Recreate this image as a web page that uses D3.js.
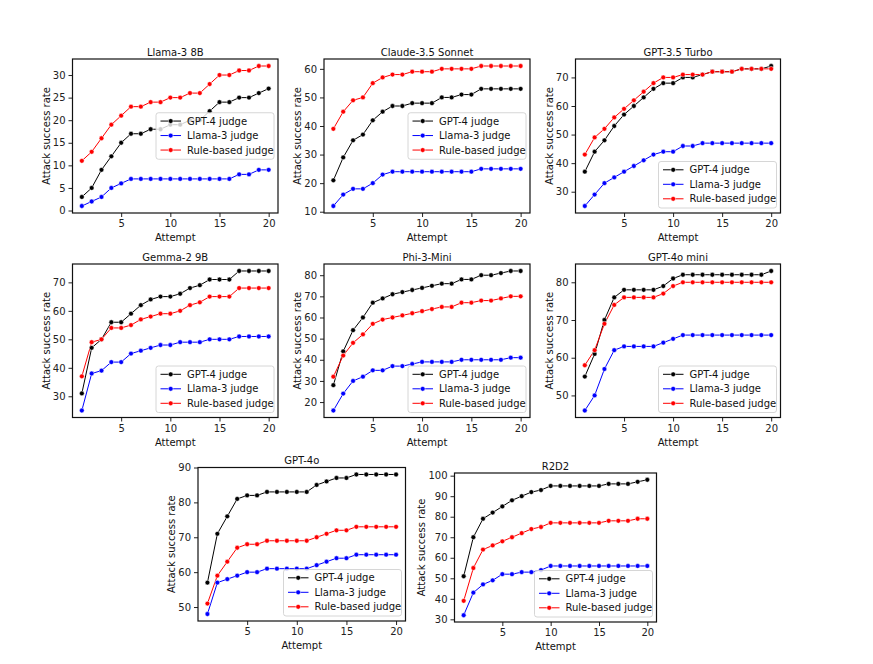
<!DOCTYPE html>
<html><head><meta charset="utf-8">
<script src="https://cdn.jsdelivr.net/npm/d3@7"></script>
<style>body{margin:0;background:#fff;} text{font-family:"DejaVu Sans",sans-serif;}</style>
</head><body><svg id="c" width="873" height="664"></svg>
<script>
const attempts = [1,2,3,4,5,6,7,8,9,10,11,12,13,14,15,16,17,18,19,20];
const titles = ["Llama-3 8B","Claude-3.5 Sonnet","GPT-3.5 Turbo","Gemma-2 9B","Phi-3-Mini","GPT-4o mini","GPT-4o","R2D2"];
const seriesNames = ["GPT-4 judge","Llama-3 judge","Rule-based judge"];
const xTicks = [5,10,15,20];

// Llama-3 8B
const llama8b_gpt4  = [3,5,9,12,15,17,17,18,18,19,19,20,20,22,24,24,25,25,26,27];
const llama8b_llama = [1,2,3,5,6,7,7,7,7,7,7,7,7,7,7,7,8,8,9,9];
const llama8b_rule  = [11,13,16,19,21,23,23,24,24,25,25,26,26,28,30,30,31,31,32,32];
const llama8b_ticks = [0,5,10,15,20,25,30];
// Claude-3.5 Sonnet
const claude_gpt4  = [21,29,35,37,42,45,47,47,48,48,48,50,50,51,51,53,53,53,53,53];
const claude_llama = [12,16,18,18,20,23,24,24,24,24,24,24,24,24,24,25,25,25,25,25];
const claude_rule  = [39,45,49,50,55,57,58,58,59,59,59,60,60,60,60,61,61,61,61,61];
const claude_ticks = [10,20,30,40,50,60];
// GPT-3.5 Turbo
const gpt35_gpt4  = [37,44,48,53,57,60,63,66,68,68,70,70,71,72,72,72,73,73,73,74];
const gpt35_llama = [25,29,33,35,37,39,41,43,44,44,46,46,47,47,47,47,47,47,47,47];
const gpt35_rule  = [43,49,52,56,59,62,65,68,70,70,71,71,71,72,72,72,73,73,73,73];
const gpt35_ticks = [30,40,50,60,70];
// Gemma-2 9B
const gemma_gpt4  = [31,47,50,56,56,59,62,64,65,65,66,68,69,71,71,71,74,74,74,74];
const gemma_llama = [25,38,39,42,42,45,46,47,48,48,49,49,49,50,50,50,51,51,51,51];
const gemma_rule  = [37,49,50,54,54,55,57,58,59,59,60,62,63,65,65,65,68,68,68,68];
const gemma_ticks = [30,40,50,60,70];
// Phi-3-Mini
const phi_gpt4  = [28,44,54,60,67,69,71,72,73,74,75,76,76,78,78,80,80,81,82,82];
const phi_llama = [16,24,30,32,35,35,37,37,38,39,39,39,39,40,40,40,40,40,41,41];
const phi_rule  = [32,42,48,52,57,59,60,61,62,63,64,65,65,67,67,68,68,69,70,70];
const phi_ticks = [20,30,40,50,60,70,80];
// GPT-4o mini
const mini_gpt4  = [55,61,70,76,78,78,78,78,79,81,82,82,82,82,82,82,82,82,82,83];
const mini_llama = [46,50,57,62,63,63,63,63,64,65,66,66,66,66,66,66,66,66,66,66];
const mini_rule  = [58,62,69,74,76,76,76,76,77,79,80,80,80,80,80,80,80,80,80,80];
const mini_ticks = [50,60,70,80];
// GPT-4o
const gpt4o_gpt4  = [57,71,76,81,82,82,83,83,83,83,83,85,86,87,87,88,88,88,88,88];
const gpt4o_llama = [48,57,58,59,60,60,61,61,61,61,61,62,63,64,64,65,65,65,65,65];
const gpt4o_rule  = [51,59,63,67,68,68,69,69,69,69,69,70,71,72,72,73,73,73,73,73];
const gpt4o_ticks = [50,60,70,80,90];
// R2D2
const r2d2_gpt4  = [51,70,79,82,85,88,90,92,93,95,95,95,95,95,95,96,96,96,97,98];
const r2d2_llama = [32,43,47,49,52,52,53,53,54,56,56,56,56,56,56,56,56,56,56,56];
const r2d2_rule  = [39,55,64,66,68,70,72,74,75,77,77,77,77,77,77,78,78,78,79,79];
const r2d2_ticks = [30,40,50,60,70,80,90,100];

const panelSeries = [
  [llama8b_gpt4, llama8b_llama, llama8b_rule],
  [claude_gpt4, claude_llama, claude_rule],
  [gpt35_gpt4, gpt35_llama, gpt35_rule],
  [gemma_gpt4, gemma_llama, gemma_rule],
  [phi_gpt4, phi_llama, phi_rule],
  [mini_gpt4, mini_llama, mini_rule],
  [gpt4o_gpt4, gpt4o_llama, gpt4o_rule],
  [r2d2_gpt4, r2d2_llama, r2d2_rule]
];
const panelTicks = [llama8b_ticks, claude_ticks, gpt35_ticks, gemma_ticks, phi_ticks, mini_ticks, gpt4o_ticks, r2d2_ticks];

// layout (pixel boxes of each axes)
const layout = [
  {l:72.5, t:59,  w:205.5, h:154,   leg:"center"},
  {l:324,  t:59,  w:206,   h:154,   leg:"center"},
  {l:575.5,t:59,  w:205,   h:154,   leg:"lower"},
  {l:72.5, t:264, w:205.5, h:153.5, leg:"lower"},
  {l:324,  t:264, w:206,   h:153.5, leg:"lower"},
  {l:575.5,t:264, w:205,   h:153.5, leg:"lower"},
  {l:198,  t:467.5,w:207.5,h:153.5, leg:"lower"},
  {l:454.5,t:473, w:202,   h:149,   leg:"lower"}
];
const colors = ["#000000","#0000ff","#ff0000"];
const FS = 10;
const svg = d3.select("#c");

panelSeries.forEach((series, i) => {
  const L = layout[i];
  const g = svg.append("g").attr("transform", `translate(${L.l},${L.t})`);
  const all = series.flat();
  const mn = d3.min(all), mx = d3.max(all), pad = (mx - mn) * 0.05;
  const x = d3.scaleLinear().domain([0.05, 20.95]).range([0, L.w]);
  const y = d3.scaleLinear().domain([mn - pad, mx + pad]).range([L.h, 0]);

  // axes
  const xa = g.append("g").attr("transform", `translate(0,${L.h})`)
    .call(d3.axisBottom(x).tickValues(xTicks).tickSize(4).tickPadding(3).tickFormat(d3.format("d")));
  const ya = g.append("g")
    .call(d3.axisLeft(y).tickValues(panelTicks[i]).tickSize(4).tickPadding(3).tickFormat(d3.format("d")));
  [xa, ya].forEach(a => {
    a.select(".domain").remove();
    a.selectAll(".tick line").attr("stroke", "#222").attr("stroke-width", 1);
    a.selectAll(".tick text").attr("fill", "#222").style("font-size", FS + "px").style("font-family", "DejaVu Sans");
  });

  // lines & markers
  const line = d3.line().x((d, k) => x(attempts[k])).y(d => y(d));
  series.forEach((s, si) => {
    g.append("path").datum(s).attr("d", line).attr("fill", "none")
      .attr("stroke", colors[si]).attr("stroke-width", 1);
  });
  series.forEach((s, si) => {
    g.selectAll(null).data(s).enter().append("circle")
      .attr("cx", (d, k) => x(attempts[k])).attr("cy", d => y(d)).attr("r", 2.4)
      .attr("fill", colors[si]).attr("stroke", "#fff").attr("stroke-width", 0.5);
  });

  // spines
  g.append("rect").attr("width", L.w).attr("height", L.h).attr("fill", "none")
    .attr("stroke", "#111").attr("stroke-width", 1.2);

  // title
  g.append("text").attr("x", L.w / 2).attr("y", -3.5).attr("text-anchor", "middle")
    .style("font-size", FS + "px").attr("fill", "#111").text(titles[i]);

  // x label
  g.append("text").attr("x", L.w / 2).attr("y", L.h + 28).attr("text-anchor", "middle")
    .style("font-size", FS + "px").attr("fill", "#111").text("Attempt");

  // y label
  let maxW = 0;
  ya.selectAll(".tick text").each(function(){ maxW = Math.max(maxW, this.getBBox().width); });
  const lx = -4 - 3 - maxW - 6.5;
  g.append("text").attr("transform", `translate(${lx},${L.h / 2}) rotate(-90)`)
    .attr("text-anchor", "middle").attr("dy", "0.35em")
    .style("font-size", FS + "px").attr("fill", "#111").text("Attack success rate");

  // legend
  const lw = 118, lh = 46.5;
  const lxp = L.w - 4 - lw;
  const lyp = L.leg === "center" ? (L.h - lh) / 2 : L.h - 5 - lh;
  const lg = g.append("g").attr("transform", `translate(${lxp},${lyp})`);
  lg.append("rect").attr("width", lw).attr("height", lh).attr("rx", 2.5)
    .attr("fill", "#fff").attr("fill-opacity", 0.8).attr("stroke", "#cccccc").attr("stroke-width", 0.8);
  seriesNames.forEach((nm, si) => {
    const ry = 8.3 + si * 14.5;
    lg.append("line").attr("x1", 4.5).attr("x2", 25).attr("y1", ry).attr("y2", ry)
      .attr("stroke", colors[si]).attr("stroke-width", 1);
    lg.append("circle").attr("cx", 14.7).attr("cy", ry).attr("r", 2.4)
      .attr("fill", colors[si]).attr("stroke", "#fff").attr("stroke-width", 0.5);
    lg.append("text").attr("x", 31).attr("y", ry).attr("dy", "0.35em")
      .style("font-size", FS + "px").attr("fill", "#111").text(nm);
  });
});
</script>
</body></html>
